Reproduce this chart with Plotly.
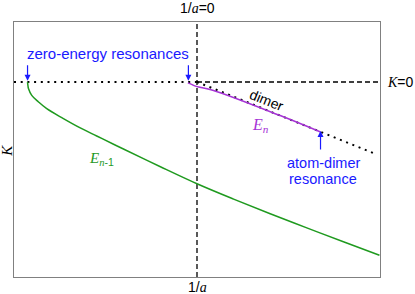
import plotly.graph_objects as go

# ---- data (1/a on x, K on y, arbitrary units) ----
green_x = [-0.926, -0.924, -0.921, -0.903, -0.866, -0.821, -0.730, -0.638, -0.548,
           -0.456, -0.402, -0.2, 0.0, 0.2, 0.4, 0.6, 0.8, 0.997]
green_y = [0.0, -0.018, -0.036, -0.073, -0.109, -0.146, -0.200, -0.251, -0.295,
           -0.340, -0.366, -0.463, -0.556, -0.640, -0.720, -0.797, -0.873, -0.947]

purple_x = [-0.050, -0.030, -0.004, 0.086, 0.451, 0.675]
purple_y = [-0.005, -0.013, -0.024, -0.045, -0.182, -0.273]

dimer_x = [0.0, 0.98]
dimer_y = [0.0, -0.395]

threshold_x = [-1.0, 0.0]
threshold_y = [0.0, 0.0]

kzero_x = [0.0, 1.0]
kzero_y = [0.0, 0.0]

vline_x = [0.0, 0.0]
vline_y = [-1.0656, 0.3279]

x_range = [-1.0, 1.0]
y_range = [-1.0656, 0.3279]

GREEN = "#1f9a1f"
PURPLE = "#a633d6"
BLUE = "#1a1aff"
SANS = "Liberation Sans, Arial, sans-serif"
SERIF = "Liberation Serif, Times New Roman, serif"

fig = go.Figure()
fig.add_trace(go.Scatter(x=threshold_x, y=threshold_y, mode="lines",
                         line=dict(color="black", width=2, dash="2px,4.7px"), hoverinfo="skip"))
fig.add_trace(go.Scatter(x=dimer_x, y=dimer_y, mode="lines",
                         line=dict(color="black", width=2, dash="2px,4.7px"), hoverinfo="skip"))
fig.add_trace(go.Scatter(x=kzero_x, y=kzero_y, mode="lines",
                         line=dict(color="black", width=1.3, dash="5px,3px"), hoverinfo="skip"))
fig.add_trace(go.Scatter(x=vline_x, y=vline_y, mode="lines",
                         line=dict(color="black", width=1.3, dash="5px,3px"), hoverinfo="skip"))
fig.add_trace(go.Scatter(x=green_x, y=green_y, mode="lines", line_shape="spline",
                         line=dict(color=GREEN, width=1.5), hoverinfo="skip"))
fig.add_trace(go.Scatter(x=purple_x, y=purple_y, mode="lines", line_shape="spline",
                         line=dict(color=PURPLE, width=1.5), hoverinfo="skip"))

C = dict(xanchor="center", yanchor="middle", showarrow=False)
ann = []
# arrows
for hx, hy, ay in [(-0.926, 0.007, -17), (-0.047, 0.007, -17), (0.675, -0.268, 20)]:
    ann.append(dict(x=hx, y=hy, xref="x", yref="y", text="", showarrow=True,
                    ax=0, ay=ay, arrowhead=2, arrowsize=1, arrowwidth=1.2, arrowcolor=BLUE))
# texts
ann.append(dict(x=-0.488, y=0.155, xref="x", yref="y", text="zero-energy resonances",
                font=dict(family=SANS, size=15, color=BLUE), **C))
ann.append(dict(x=0.69, y=-0.442, xref="x", yref="y", text="atom-dimer",
                font=dict(family=SANS, size=14.5, color=BLUE), **C))
ann.append(dict(x=0.69, y=-0.531, xref="x", yref="y", text="resonance",
                font=dict(family=SANS, size=14.5, color=BLUE), **C))
ann.append(dict(x=0.378, y=-0.100, xref="x", yref="y", text="dimer", textangle=22,
                font=dict(family=SANS, size=14, color="black"), **C))
ann.append(dict(x=0.345, y=-0.24, xref="x", yref="y",
                text="<i>E</i><sub><i>n</i></sub>",
                font=dict(family=SERIF, size=16, color=PURPLE), **C))
ann.append(dict(x=-0.52, y=-0.42, xref="x", yref="y",
                text="<i>E</i><sub><span style='font-family:Liberation Serif'><i>n</i></span><span style='font-family:Liberation Sans'>-1</span></sub>",
                font=dict(family=SERIF, size=15, color=GREEN), **C))
# axis labels (outside plot)
ann.append(dict(x=0.0, y=1.054, xref="x", yref="paper",
                text="1/<span style='font-family:Liberation Serif'><i>a</i></span>=0",
                font=dict(family=SANS, size=14, color="black"), **C))
ann.append(dict(x=0.0, y=-0.04, xref="x", yref="paper",
                text="1/<span style='font-family:Liberation Serif'><i>a</i></span>",
                font=dict(family=SANS, size=14, color="black"), **C))
ann.append(dict(x=1.057, y=0.0, xref="paper", yref="y",
                text="<span style='font-family:Liberation Serif'><i>K</i></span>=0",
                font=dict(family=SANS, size=14, color="black"), **C))
ann.append(dict(x=-0.019, y=0.495, xref="paper", yref="paper", textangle=-90,
                text="<i>K</i>",
                font=dict(family=SERIF, size=15, color="black"), **C))

axis_common = dict(showgrid=False, zeroline=False, showticklabels=False, ticks="",
                   showline=True, linecolor="#808080", linewidth=1, mirror=True)
fig.update_layout(
    width=415, height=294,
    margin=dict(l=14, r=35, t=22, b=17),
    paper_bgcolor="white", plot_bgcolor="white",
    showlegend=False,
    xaxis=dict(range=x_range, **axis_common),
    yaxis=dict(range=y_range, **axis_common),
    annotations=ann,
)
fig.write_html("out.html", config={"displayModeBar": False},
               post_script="document.body.style.margin='0px';")
